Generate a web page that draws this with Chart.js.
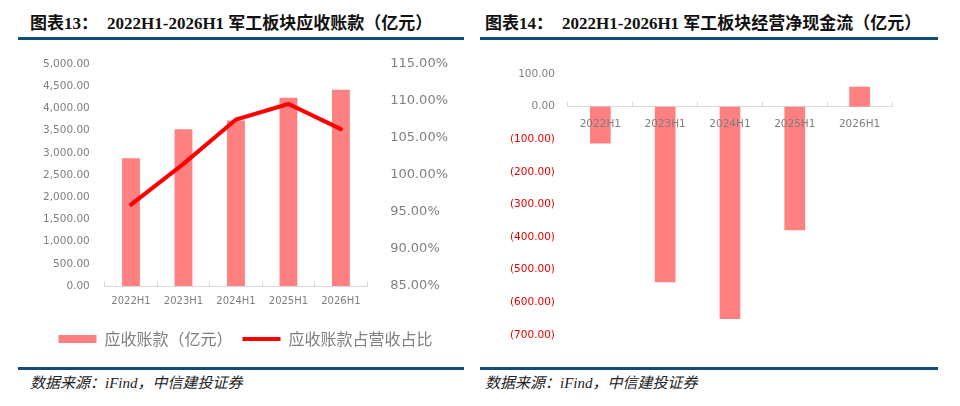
<!DOCTYPE html>
<html>
<head>
<meta charset="utf-8">
<script src="https://cdn.jsdelivr.net/npm/chart.js@4/dist/chart.umd.min.js"></script>
<style>
  html, body { margin:0; padding:0; background:#fff; }
  body { width:960px; height:406px; position:relative; overflow:hidden; }
  .title { position:absolute; font:bold 17px "Liberation Serif","Noto Sans CJK SC",serif; color:#111; white-space:nowrap; line-height:20px; }
  .title .cj { font-family:"Noto Sans CJK SC",sans-serif; }
  .rule { position:absolute; height:3px; background:#0f4c78; }
  .src { position:absolute; font:italic 15px "Liberation Serif","Noto Sans CJK SC",serif; color:#222; white-space:nowrap; line-height:18px; }
  .box { position:absolute; }
</style>
</head>
<body>
<div class="title" style="left:30px;top:12px;"><span class="cj">图表</span>13<span class="cj">：</span><span style="margin-left:9px;">2022H1-2026H1 <span class="cj">军工板块应收账款（亿元）</span></span></div>
<div class="title" style="left:485px;top:12px;"><span class="cj">图表</span>14<span class="cj">：</span><span style="margin-left:9px;">2022H1-2026H1 <span class="cj">军工板块经营净现金流（亿元）</span></span></div>
<div class="rule" style="left:18px;top:37px;width:446px;"></div>
<div class="rule" style="left:480px;top:37px;width:458px;"></div>
<div class="rule" style="left:18px;top:367px;width:446px;"></div>
<div class="rule" style="left:480px;top:367px;width:458px;"></div>
<div class="src" style="left:30px;top:374px;">数据来源：iFind，中信建投证券</div>
<div class="src" style="left:485px;top:374px;">数据来源：iFind，中信建投证券</div>

<div class="box" style="left:18px;top:45px;width:450px;height:312px;"><canvas id="c1"></canvas></div>
<div class="box" style="left:480px;top:45px;width:460px;height:320px;"><canvas id="c2"></canvas></div>

<script>
// ---- data ----
const categories = ['2022H1', '2023H1', '2024H1', '2025H1', '2026H1'];
const receivables = [2880, 3530, 3730, 4240, 4420];          // 应收账款（亿元）
const receivableRatio = [96.0, 101.5, 107.5, 109.6, 106.2];    // 应收账款占营收占比 (%)
const operatingCashFlow = [-113, -538, -651, -379, 61];        // 经营净现金流（亿元）
const leftTicks = { min: 0, max: 5000, step: 500 };
const ratioTicks = { min: 85, max: 115, step: 5 };
const cashTicks = { min: -700, max: 100, step: 100 };

const BAR = '#ff8080';
const GRAY = '#7f7f7f';
const AXIS = '#d9d9d9';
Chart.defaults.font.family = '"DejaVu Sans", sans-serif';
Chart.defaults.color = GRAY;
Chart.defaults.animation = false;

const fmt2 = v => Number(v).toLocaleString('en-US', { minimumFractionDigits: 2, maximumFractionDigits: 2 });

new Chart(document.getElementById('c1'), {
  data: {
    labels: categories,
    datasets: [
      { type: 'bar', label: '应收账款（亿元）', data: receivables, backgroundColor: BAR, borderWidth: 0,
        yAxisID: 'y', categoryPercentage: 1, barPercentage: 0.34, pointStyle: 'rect', order: 1 },
      { type: 'line', label: '应收账款占营收占比', data: receivableRatio, borderColor: '#ff0000', backgroundColor: '#ff0000',
        borderWidth: 4, pointRadius: 0, pointStyle: 'line', tension: 0, yAxisID: 'y1', borderCapStyle: 'round', order: 0 }
    ]
  },
  options: {
    responsive: true, maintainAspectRatio: false,
    layout: { padding: { left: 25, right: 20, top: 19, bottom: 0 } },
    plugins: {
      tooltip: { enabled: false },
      legend: {
        position: 'bottom',
        labels: {
          usePointStyle: true, pointStyleWidth: 38, boxHeight: 8, padding: 10,
          color: GRAY, font: { size: 16, family: '"Noto Sans CJK SC", sans-serif' },
          sort: (a, b) => a.datasetIndex - b.datasetIndex
        }
      }
    },
    scales: {
      x: {
        grid: { display: true, drawOnChartArea: false, offset: true, tickLength: -5, color: AXIS },
        border: { color: AXIS },
        ticks: { color: GRAY, font: { size: 10 }, padding: 14, maxRotation: 0, minRotation: 0, autoSkip: false }
      },
      y: {
        position: 'left', min: leftTicks.min, max: leftTicks.max,
        grid: { display: false, drawTicks: true, tickLength: 15 }, border: { display: false },
        ticks: { stepSize: leftTicks.step, color: GRAY, font: { size: 10.5 }, padding: 0, callback: v => fmt2(v) }
      },
      y1: {
        position: 'right', min: ratioTicks.min, max: ratioTicks.max,
        grid: { display: false, drawTicks: true, tickLength: 23 }, border: { display: false },
        ticks: { stepSize: ratioTicks.step, color: GRAY, font: { size: 13 }, padding: 0, callback: v => Number(v).toFixed(2) + '%' }
      }
    }
  }
});

new Chart(document.getElementById('c2'), {
  type: 'bar',
  data: {
    labels: categories,
    datasets: [
      { label: '经营净现金流（亿元）', data: operatingCashFlow, backgroundColor: BAR, borderWidth: 0,
        categoryPercentage: 1, barPercentage: 0.32 }
    ]
  },
  options: {
    responsive: true, maintainAspectRatio: false,
    layout: { padding: { left: 30, right: 48, top: 29, bottom: 30 } },
    plugins: { legend: { display: false }, tooltip: { enabled: false } },
    scales: {
      x: {
        position: { y: 0 },
        grid: { display: true, drawOnChartArea: false, offset: true, tickLength: -5, color: AXIS },
        border: { color: AXIS },
        ticks: { z: 1, color: GRAY, font: { size: 10.5 }, padding: 16, maxRotation: 0, minRotation: 0, autoSkip: false }
      },
      y: {
        min: cashTicks.min, max: cashTicks.max,
        grid: { display: false, drawTicks: true, tickLength: 13 }, border: { display: false },
        ticks: {
          stepSize: cashTicks.step, font: { size: 10.5 }, padding: 0,
          color: ctx => (ctx.tick && ctx.tick.value < 0) ? '#e60000' : GRAY,
          callback: v => v < 0 ? '(' + fmt2(-v) + ')' : fmt2(v)
        }
      }
    }
  }
});
</script>
</body>
</html>
